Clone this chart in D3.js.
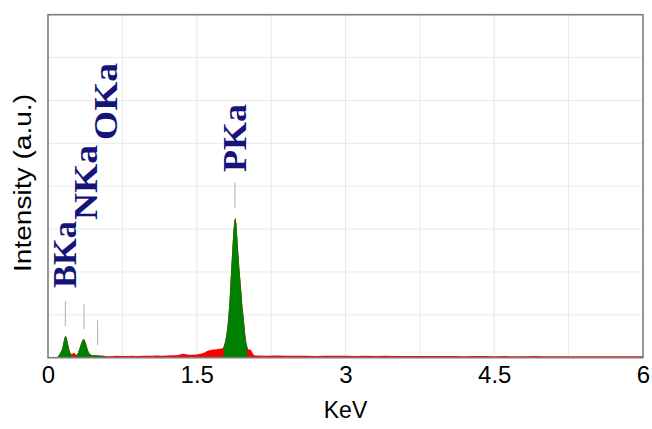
<!DOCTYPE html>
<html>
<head>
<meta charset="utf-8">
<script src="https://cdn.jsdelivr.net/npm/d3@7"></script>
<style>
  body { margin: 0; background: #fff; }
  svg { display: block; }
</style>
</head>
<body>
<svg id="chart" width="652" height="429"></svg>
<script>
// EDS spectrum: [energy (keV), counts]
const spectrum = [
  [0.00, 0], [0.05, 0], [0.08, 0], [0.09, 5], [0.10, 15], [0.11, 30], [0.12, 50],
  [0.13, 70], [0.14, 95], [0.15, 140], [0.16, 200], [0.17, 245], [0.18, 253],
  [0.19, 225], [0.20, 170], [0.21, 115], [0.22, 70], [0.23, 45], [0.24, 40],
  [0.25, 50], [0.26, 58], [0.27, 52], [0.28, 38], [0.29, 35], [0.30, 50],
  [0.31, 80], [0.32, 115], [0.33, 150], [0.34, 185], [0.35, 208], [0.36, 214],
  [0.37, 205], [0.38, 175], [0.39, 135], [0.40, 95], [0.41, 65], [0.42, 45],
  [0.43, 38], [0.44, 32], [0.45, 30], [0.46, 28], [0.48, 30], [0.50, 27],
  [0.52, 26], [0.54, 24], [0.56, 22], [0.58, 20], [0.60, 18],
  [0.65, 20], [0.70, 22], [0.75, 19], [0.80, 21], [0.85, 23], [0.90, 20],
  [0.95, 22], [1.00, 24], [1.05, 22], [1.10, 25], [1.15, 23], [1.20, 26],
  [1.25, 28], [1.30, 30], [1.33, 38], [1.36, 46], [1.39, 40], [1.42, 34],
  [1.45, 33], [1.50, 38], [1.55, 50], [1.58, 62], [1.61, 80], [1.64, 90],
  [1.67, 95], [1.70, 100], [1.73, 105], [1.76, 110],
  [1.77, 125], [1.78, 160], [1.79, 210], [1.80, 280], [1.81, 370], [1.82, 500],
  [1.83, 650], [1.84, 870], [1.85, 1080], [1.86, 1290], [1.87, 1480], [1.88, 1600],
  [1.89, 1633], [1.90, 1560], [1.91, 1380], [1.92, 1200], [1.93, 1040], [1.94, 900],
  [1.95, 760], [1.96, 600], [1.97, 500], [1.98, 380], [1.99, 260], [2.00, 170],
  [2.01, 125], [2.02, 100], [2.03, 95], [2.04, 92], [2.05, 85], [2.06, 60],
  [2.07, 40], [2.08, 30],
  [2.10, 26], [2.20, 24], [2.30, 25], [2.40, 22], [2.50, 24], [2.60, 23],
  [2.70, 21], [2.80, 23], [2.90, 22], [3.00, 24], [3.10, 21], [3.20, 22],
  [3.30, 20], [3.40, 22], [3.50, 21], [3.60, 19], [3.70, 21], [3.80, 20],
  [3.90, 19], [4.00, 21], [4.10, 19], [4.20, 18], [4.30, 20], [4.40, 19],
  [4.50, 18], [4.60, 19], [4.70, 17], [4.80, 18], [4.90, 19], [5.00, 17],
  [5.10, 18], [5.20, 17], [5.30, 18], [5.40, 16], [5.50, 17], [5.60, 18],
  [5.70, 16], [5.80, 17], [5.90, 16], [6.00, 17]
];

// Energy windows of the identified peaks (filled green)
const peakWindows = [[0.09, 0.24], [0.29, 0.56], [1.77, 2.01]];

// Identified X-ray lines
const lineNames = ["BKa", "NKa", "OKa", "PKa"];
const lineEnergies = [0.175, 0.363, 0.50, 1.885];

const xTicks = [0, 1.5, 3, 4.5, 6];
const xGrid = [0.75, 1.5, 2.25, 3, 3.75, 4.5, 5.25];
const yGrid = [500, 1000, 1500, 2000, 2500, 3000, 3500];

// ---- layout ----
const plot = { left: 48, right: 643, top: 14.7, bottom: 357.7 };
// label placement: baseline offset from the marker, lower end and length of the text
const labelLayout = [
  { dx: 11, y: 288, len: 67 },
  { dx: 13, y: 220, len: 75 },
  { dx: 19, y: 140, len: 77 },
  { dx: 11, y: 172, len: 68 }
];

const svg = d3.select("#chart");

const x = d3.scaleLinear().domain([0, 6]).range([plot.left, plot.right]);
const y = d3.scaleLinear().domain([0, 4000]).range([plot.bottom, plot.top]);

// grid
svg.append("g").selectAll("line").data(xGrid).join("line")
  .attr("x1", d => x(d)).attr("x2", d => x(d))
  .attr("y1", plot.top).attr("y2", plot.bottom)
  .attr("stroke", "#e9e9e9").attr("stroke-width", 1);
svg.append("g").selectAll("line").data(yGrid).join("line")
  .attr("x1", plot.left).attr("x2", plot.right)
  .attr("y1", d => y(d)).attr("y2", d => y(d))
  .attr("stroke", "#e9e9e9").attr("stroke-width", 1);

// spectrum
const area = d3.area()
  .x(d => x(d[0]))
  .y0(y(0))
  .y1(d => y(d[1]));

svg.append("path")
  .datum(spectrum)
  .attr("d", area)
  .attr("fill", "#ff0000");

svg.append("g").selectAll("path")
  .data(peakWindows.map(w => spectrum.filter(d => d[0] >= w[0] - 1e-9 && d[0] <= w[1] + 1e-9)))
  .join("path")
  .attr("d", area)
  .attr("fill", "#008000");

// frame
svg.append("rect")
  .attr("x", plot.left).attr("y", plot.top)
  .attr("width", plot.right - plot.left).attr("height", plot.bottom - plot.top)
  .attr("fill", "none").attr("stroke", "#7d7d7d").attr("stroke-width", 1.6);

// x axis
const xAxis = d3.axisBottom(x).tickValues(xTicks).tickSize(0).tickPadding(0)
  .tickFormat(d3.format("~g"));
const gx = svg.append("g").attr("transform", `translate(0,${plot.bottom})`).call(xAxis);
gx.select(".domain").remove();
gx.selectAll("text")
  .attr("dy", null).attr("y", 25.5)
  .attr("fill", "#000")
  .style("font-family", "Liberation Sans, Arial, sans-serif")
  .style("font-size", "24px");

svg.append("text")
  .attr("x", (plot.left + plot.right) / 2).attr("y", 418)
  .attr("text-anchor", "middle")
  .style("font-family", "Liberation Sans, Arial, sans-serif")
  .style("font-size", "23px")
  .text("KeV");

svg.append("text")
  .attr("transform", "translate(31,183) rotate(-90)")
  .attr("text-anchor", "middle")
  .attr("textLength", 178).attr("lengthAdjust", "spacingAndGlyphs")
  .style("font-family", "Liberation Sans, Arial, sans-serif")
  .style("font-size", "23px")
  .text("Intensity (a.u.)");

// line markers and labels
function localMax(e) {
  return d3.max(spectrum.filter(d => Math.abs(d[0] - e) <= 0.02), d => d[1]);
}

const markers = svg.append("g");
lineNames.forEach((name, i) => {
  const e = lineEnergies[i];
  const mx = x(e);
  const y1 = y(localMax(e)) - 10;
  markers.append("line")
    .attr("x1", mx).attr("x2", mx)
    .attr("y1", y1).attr("y2", y1 - 25)
    .attr("stroke", "#b0b0b0").attr("stroke-width", 1);
  const L = labelLayout[i];
  markers.append("text")
    .attr("transform", `translate(${mx + L.dx},${L.y}) rotate(-90)`)
    .attr("textLength", L.len).attr("lengthAdjust", "spacingAndGlyphs")
    .attr("fill", "#14147a")
    .style("font-family", "Liberation Serif, Times New Roman, serif")
    .style("font-weight", "bold")
    .style("font-size", "33px")
    .text(name);
});
</script>
</body>
</html>
